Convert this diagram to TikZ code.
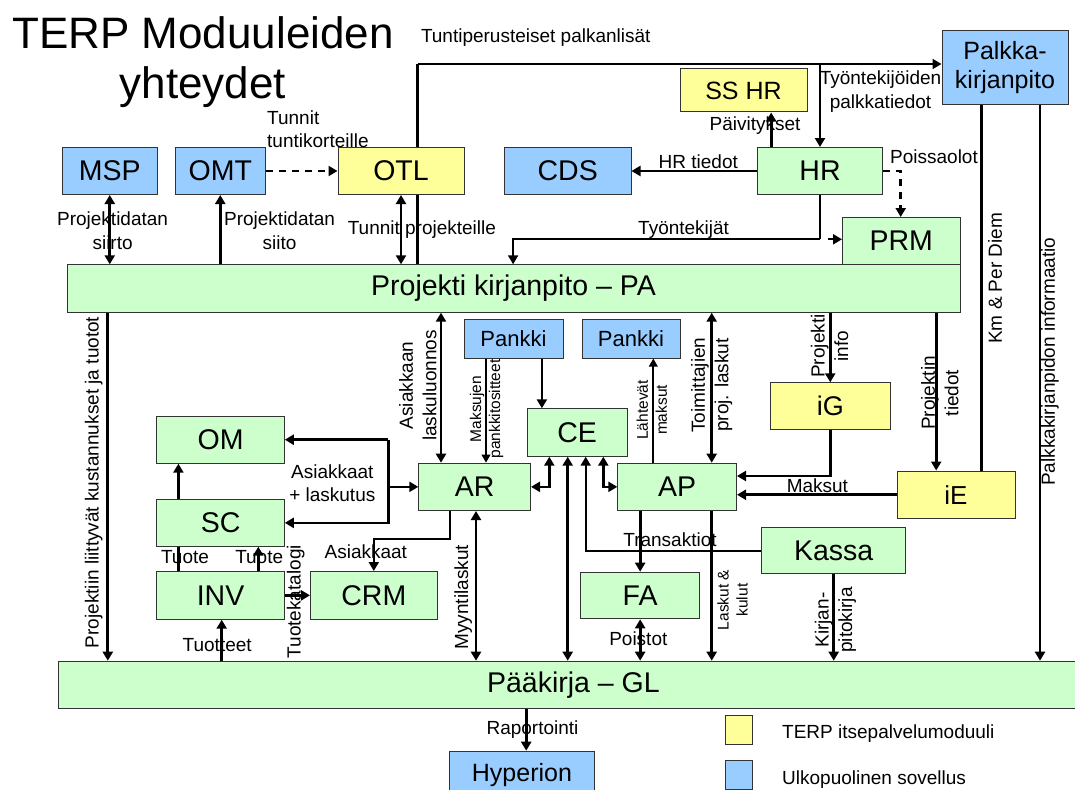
\documentclass[tikz,border=0pt]{standalone}
\usepackage{fontspec}
\setmainfont{Liberation Sans}
\usetikzlibrary{arrows.meta,backgrounds}
\definecolor{modgreen}{HTML}{CCFFCC}
\definecolor{modyellow}{HTML}{FFFF99}
\definecolor{modblue}{HTML}{99CCFF}
\tikzset{
  mod/.style={draw=black!80, line width=1pt, inner sep=0pt, anchor=north west,
              align=center, font=\fontsize{28.5}{32}\selectfont},
  gmod/.style={mod, fill=modgreen},
  ymod/.style={mod, fill=modyellow},
  bmod/.style={mod, fill=modblue},
  lbl/.style={inner sep=0pt, align=center, font=\fontsize{19}{23.5}\selectfont},
  slbl/.style={inner sep=0pt, align=center, font=\fontsize{15.5}{19}\selectfont},
  vlbl/.style={lbl, rotate=90},
  svlbl/.style={slbl, rotate=90},
  conn/.style={line width=2.7pt},
  thinconn/.style={line width=2pt},
  dconn/.style={line width=2.7pt, dash pattern=on 7pt off 6pt},
  endtip/.style={-{Triangle[length=9pt,width=10pt]}},
  smalltip/.style={-{Triangle[length=8pt,width=8.5pt]}},
  bitip/.style={{Triangle[length=9pt,width=10pt]}-{Triangle[length=9pt,width=10pt]}},
}
\begin{document}
\begin{tikzpicture}[x=1pt,y=-1pt]
\useasboundingbox (0,0) rectangle (1075,789);
\clip (0,0) rectangle (1075,789);

% heading
\node[inner sep=0pt, anchor=base, font=\fontsize{44}{50}\selectfont] (title1) at (203,49) {TERP Moduuleiden};
\node[inner sep=0pt, anchor=base, font=\fontsize{44}{50}\selectfont] (title2) at (203,99) {yhteydet};

% modules
\node[bmod, minimum width=94.5pt, minimum height=47pt] (MSP) at (62,147) {MSP};
\node[bmod, minimum width=90.5pt, minimum height=47pt] (OMT) at (174.5,147) {OMT};
\node[ymod, minimum width=126pt, minimum height=47pt] (OTL) at (337.5,147) {OTL};
\node[bmod, minimum width=126.5pt, minimum height=47pt] (CDS) at (504,147) {CDS};
\node[gmod, minimum width=125pt, minimum height=47pt] (HR) at (757,147) {HR};
\node[ymod, minimum width=127pt, minimum height=43pt, font=\fontsize{25}{28}\selectfont] (SSHR) at (679.5,68.5) {SS HR};
\node[bmod, minimum width=126pt, minimum height=74pt, font=\fontsize{25}{28.5}\selectfont] (Palkka) at (941.5,30) {Palkka-\\kirjanpito};
\node[gmod, minimum width=117.5pt, minimum height=47.3pt] (PRM) at (842,217) {PRM};
\node[gmod, minimum width=893pt, minimum height=47.4pt] (PA) at (66.5,264.3) {Projekti kirjanpito -- PA};
\node[bmod, minimum width=99pt, minimum height=39pt, font=\fontsize{22}{24}\selectfont] (Pankki1) at (463.5,318.5) {Pankki};
\node[bmod, minimum width=98pt, minimum height=39pt, font=\fontsize{22}{24}\selectfont] (Pankki2) at (581.5,318.5) {Pankki};
\node[ymod, minimum width=119.5pt, minimum height=46.7pt, font=\fontsize{27}{30}\selectfont] (iG) at (770,382.3) {iG};
\node[gmod, minimum width=100pt, minimum height=47.4pt] (CE) at (526.7,408.3) {CE};
\node[gmod, minimum width=127.5pt, minimum height=47pt] (OM) at (156.3,415.7) {OM};
\node[gmod, minimum width=111.7pt, minimum height=47.3pt] (AR) at (418.3,462.7) {AR};
\node[gmod, minimum width=118.7pt, minimum height=47.3pt] (AP) at (617.3,462.7) {AP};
\node[ymod, minimum width=118pt, minimum height=47.5pt, font=\fontsize{26}{29}\selectfont] (iE) at (896.5,470.5) {iE};
\node[gmod, minimum width=127.5pt, minimum height=46.7pt] (SC) at (156.3,499) {SC};
\node[gmod, minimum width=144pt, minimum height=46.6pt] (Kassa) at (761.2,526.7) {Kassa};
\node[gmod, minimum width=127.5pt, minimum height=47.7pt] (INV) at (156.3,571) {INV};
\node[gmod, minimum width=126.6pt, minimum height=47.7pt] (CRM) at (310,571) {CRM};
\node[gmod, minimum width=119.3pt, minimum height=46.6pt] (FA) at (580,571.7) {FA};
\node[gmod, minimum width=1030pt, minimum height=47.6pt] (GL) at (57.9,660.7) {Pääkirja -- GL};
\node[bmod, minimum width=144.1pt, minimum height=47.4pt, font=\fontsize{25}{28}\selectfont] (Hyperion) at (449.4,750.7) {Hyperion};

% legend
\node[ymod, minimum width=26.6pt, minimum height=29pt] (legY) at (725.4,715) {};
\node[bmod, minimum width=26.6pt, minimum height=29pt] (legB) at (725.4,760) {};
\node[lbl, anchor=west] (legYt) at (782,733.3) {TERP itsepalvelumoduuli};
\node[lbl, anchor=west] (legBt) at (782,779.3) {Ulkopuolinen sovellus};

% routing positions
\coordinate (tp) at (417.7,64);
\coordinate (xpv) at (771.2,0);
\coordinate (xdp) at (900.7,0);
\coordinate (ty) at (513.1,239.3);
\coordinate (xkm) at (981.6,0);
\coordinate (xpi) at (1040,0);
\coordinate (xpg) at (107.8,0);
\coordinate (xas) at (441,0);
\coordinate (xmk) at (486,0);
\coordinate (xpc) at (541.9,0);
\coordinate (xlm) at (653.3,0);
\coordinate (xtp) at (711.7,0);
\coordinate (yig) at (0,476);
\coordinate (xpt) at (936.2,0);
\coordinate (xj) at (388.4,0);
\coordinate (xso) at (178.4,0);
\coordinate (xtu) at (258.3,0);
\coordinate (xtt) at (221.7,0);
\coordinate (ac) at (450,539.3);
\coordinate (xmy) at (476,0);
\coordinate (arce) at (549.3,0);
\coordinate (xcg) at (567.7,0);
\coordinate (xtr) at (585.7,0);
\coordinate (ceap) at (603.3,0);
\coordinate (xhy) at (526.2,0);

% hourly pay supplements run behind OTL
\begin{scope}[on background layer]
  \draw[conn] (PA.north -| tp) -- (tp);
  \draw[thinconn,endtip] (tp) -- (tp -| Palkka.west);
\end{scope}

% connectors, upper half
\draw[conn,bitip] (MSP.south) -- (MSP.south |- PA.north);
\draw[conn,endtip] (OMT.south |- PA.north) -- (OMT.south);
\draw[dconn,endtip] (OMT.east) -- (OTL.west);
\draw[conn,bitip] (OTL.south) -- (OTL.south |- PA.north);
\draw[conn,endtip] (tp -| HR.north) -- (HR.north);
\draw[conn,endtip] (HR.north -| xpv) -- (SSHR.south -| xpv);
\draw[conn,endtip] (HR.west) -- (CDS.east);
\draw[dconn,endtip] (HR.east) -- (HR.east -| xdp) -- (PRM.north -| xdp);
\draw[conn] (HR.south) -- (HR.south |- ty);
\draw[thinconn,endtip] (HR.south |- ty) -- (ty) -- (ty |- PA.north);
\draw[thinconn,endtip] ([xshift=8pt]HR.south |- ty) -- (ty -| PRM.west);
\draw[conn] (Palkka.south -| xkm) -- (iE.north -| xkm);
\draw[conn,endtip] (Palkka.south -| xpi) -- (GL.north -| xpi);

% connectors, lower half
\draw[conn,endtip] (PA.south -| xpg) -- (GL.north -| xpg);
\draw[conn,bitip] (PA.south -| xas) -- (AR.north -| xas);
\draw[thinconn,smalltip] (Pankki1.south -| xmk) -- (AR.north -| xmk);
\draw[conn,endtip] (Pankki1.south -| xpc) -- (CE.north -| xpc);
\draw[thinconn,smalltip] (AP.north -| xlm) -- (Pankki2.south -| xlm);
\draw[conn,bitip] (PA.south -| xtp) -- (AP.north -| xtp);
\draw[conn,endtip] (PA.south -| iG.north) -- (iG.north);
\draw[conn,endtip] (iG.south) -- (iG.south |- yig) -- (yig -| AP.east);
\draw[conn,endtip] (iE.west) -- (iE.west -| AP.east);
\draw[conn,endtip] (PA.south -| xpt) -- (iE.north -| xpt);
\draw[conn,endtip] (OM.east -| xj) -- (OM.east);
\draw[conn,endtip] (OM.east -| xj) |- (SC.east);
\draw[conn,endtip] (AR.west -| xj) -- (AR.west);
\draw[conn,endtip] (SC.north -| xso) -- (OM.south -| xso);
\draw[conn] (SC.south -| xso) -- (INV.north -| xso);
\draw[conn,endtip] (INV.north -| xtu) -- (SC.south -| xtu);
\draw[conn,endtip] (INV.east) -- (CRM.west);
\draw[conn,endtip] (GL.north -| xtt) -- (INV.south -| xtt);
\draw[thinconn,endtip] (AR.south -| ac) -- (ac) -- (ac -| CRM.north) -- (CRM.north);
\draw[conn,bitip] (AR.south -| xmy) -- (GL.north -| xmy);
\draw[conn,bitip] (AR.east) -| (CE.south -| arce);
\draw[conn,bitip] (CE.south -| xcg) -- (GL.north -| xcg);
\draw[thinconn,endtip] (Kassa.west) -| (CE.south -| xtr);
\draw[conn,bitip] (CE.south -| ceap) |- (AP.west);
\draw[conn,endtip] (AP.south -| FA.north) -- (FA.north);
\draw[conn,bitip] (FA.south) -- (FA.south |- GL.north);
\draw[conn,endtip] (AP.south -| xtp) -- (GL.north -| xtp);
\draw[conn,endtip] (Kassa.south) -- (Kassa.south |- GL.north);
\draw[conn,endtip] (GL.south -| xhy) -- (Hyperion.north -| xhy);

% connector labels
\node[lbl, anchor=west] (lTPL) at (420.8,37.3) {Tuntiperusteiset palkanlisät};
\node[lbl, anchor=west, align=left] (lTT) at (267,129) {Tunnit\\tuntikorteille};
\node[lbl] (lPD1) at (112.6,230.5) {Projektidatan\\siirto};
\node[lbl] (lPD2) at (279.6,230.5) {Projektidatan\\siito};
\node[lbl] (lTP) at (421.9,230) {Tunnit projekteille};
\node[lbl] (lTY) at (683.6,230) {Työntekijät};
\node[lbl] (lHRT) at (698.3,161.7) {HR tiedot};
\node[lbl] (lPV) at (755,125.7) {Päivitykset};
\node[lbl] (lPO) at (934,156.7) {Poissaolot};
\node[lbl] (lTPK) at (880.5,91.7) {Työntekijöiden\\palkkatiedot};
\node[vlbl] (lKM) at (995,278.3) {Km \& Per Diem};
\node[vlbl] (lPKI) at (1050,361.7) {Palkkakirjanpidon informaatio};
\node[vlbl] (lPKT) at (93.7,482.5) {Projektiin liittyvät kustannukset ja tuotot};
\node[vlbl] (lAL) at (417.9,385.5) {Asiakkaan\\laskuluonnos};
\node[svlbl] (lMP) at (486.5,409) {Maksujen\\pankkitositteet};
\node[svlbl] (lLM) at (651.8,410) {Lähtevät\\maksut};
\node[vlbl] (lTPL2) at (711.7,385) {Toimittajien\\proj. laskut};
\node[vlbl] (lPI) at (829.5,346) {Projekti\\info};
\node[vlbl] (lPT) at (939.7,393) {Projektin\\tiedot};
\node[lbl] (lAPL) at (332.3,483.3) {Asiakkaat\\+ laskutus};
\node[lbl] (lMK) at (817.4,485.7) {Maksut};
\node[lbl] (lTU1) at (185,556.7) {Tuote};
\node[lbl] (lTU2) at (259.2,556.7) {Tuote};
\node[lbl] (lAS) at (365.8,551.7) {Asiakkaat};
\node[lbl] (lTR) at (670,540) {Transaktiot};
\node[vlbl] (lTK) at (295.8,601.7) {Tuotekatalogi};
\node[vlbl] (lMY) at (463.3,597.3) {Myyntilaskut};
\node[svlbl] (lLK) at (732.5,600) {Laskut \&\\kulut};
\node[lbl] (lPS) at (638.3,638.3) {Poistot};
\node[vlbl] (lKP) at (835.5,620) {Kirjan-\\pitokirja};
\node[lbl] (lTT2) at (217.2,645) {Tuotteet};
\node[lbl] (lRA) at (532.5,730) {Raportointi};
\end{tikzpicture}
\end{document}
